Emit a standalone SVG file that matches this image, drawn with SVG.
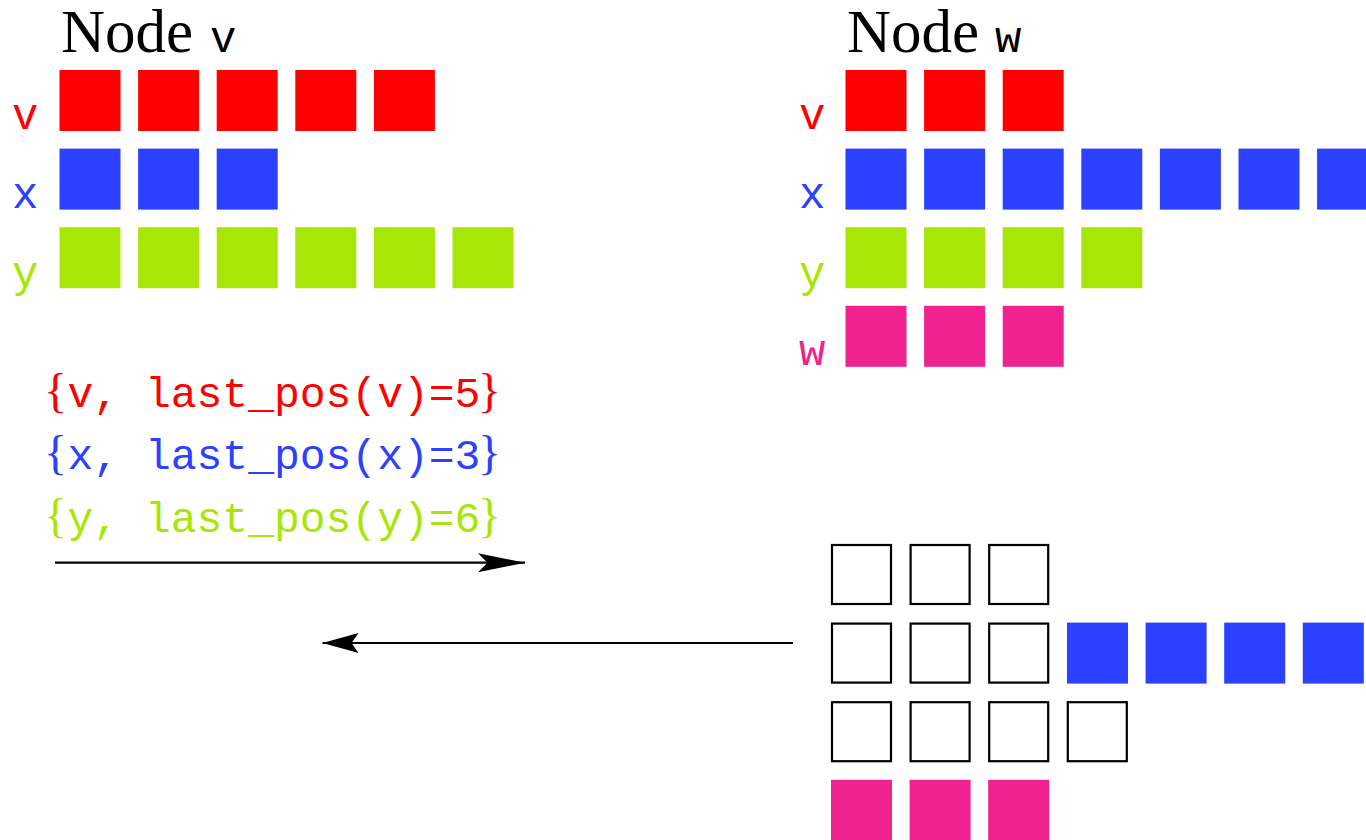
<svg xmlns="http://www.w3.org/2000/svg" width="1366" height="840" viewBox="0 0 1366 840">
<style>
.title{font-family:"Liberation Serif","Times New Roman",serif;font-size:61px;fill:#000}
.mono{font-family:"Liberation Mono","Courier New",monospace}
.tm{font-size:44px}
.lab{font-size:44px}
.st{font-size:43px}
.br{font-family:"Liberation Serif","Times New Roman",serif;font-size:48px}
.r{fill:#FF0000}
.b{fill:#2B41FF}
.g{fill:#A8E608}
.p{fill:#EF2290}
.o{fill:#fff;stroke:#000;stroke-width:2.2}
.conn{stroke:#000;stroke-width:2.2;fill:none}
</style>
<defs>
<marker id="headLong" markerUnits="userSpaceOnUse" orient="auto" refX="0" refY="0" markerWidth="60" markerHeight="30" viewBox="-50 -15 60 30" overflow="visible">
<path d="M0,0 L-47,-9.5 L-37.5,0 L-47,9.5 Z" fill="#000"/>
</marker>
<marker id="headShort" markerUnits="userSpaceOnUse" orient="auto" refX="0" refY="0" markerWidth="60" markerHeight="30" viewBox="-50 -15 60 30" overflow="visible">
<path d="M0,0 L-36,-10 L-29,0 L-36,10 Z" fill="#000"/>
</marker>
<rect id="sq" width="61" height="61"/>
</defs>

<g id="node-v">
<text class="title" x="61" y="52">Node<tspan class="mono tm" x="210">v</tspan></text>
<text class="mono lab r" x="12" y="129">v</text>
<text class="mono lab b" x="12" y="208">x</text>
<text class="mono lab g" x="12" y="287">y</text>
<g class="r">
<use href="#sq" x="59.5" y="70"/><use href="#sq" x="138.1" y="70"/><use href="#sq" x="216.7" y="70"/><use href="#sq" x="295.3" y="70"/><use href="#sq" x="373.9" y="70"/>
</g>
<g class="b">
<use href="#sq" x="59.5" y="148.6"/><use href="#sq" x="138.1" y="148.6"/><use href="#sq" x="216.7" y="148.6"/>
</g>
<g class="g">
<use href="#sq" x="59.5" y="227.2"/><use href="#sq" x="138.1" y="227.2"/><use href="#sq" x="216.7" y="227.2"/><use href="#sq" x="295.3" y="227.2"/><use href="#sq" x="373.9" y="227.2"/><use href="#sq" x="452.5" y="227.2"/>
</g>
</g>

<g id="node-w">
<text class="title" x="847" y="52">Node<tspan class="mono tm" x="995">w</tspan></text>
<text class="mono lab r" x="799" y="129">v</text>
<text class="mono lab b" x="799" y="208">x</text>
<text class="mono lab g" x="799" y="287">y</text>
<text class="mono lab p" x="799" y="365">w</text>
<g class="r">
<use href="#sq" x="845.5" y="70"/><use href="#sq" x="924.1" y="70"/><use href="#sq" x="1002.7" y="70"/>
</g>
<g class="b">
<use href="#sq" x="845.5" y="148.6"/><use href="#sq" x="924.1" y="148.6"/><use href="#sq" x="1002.7" y="148.6"/><use href="#sq" x="1081.3" y="148.6"/><use href="#sq" x="1159.9" y="148.6"/><use href="#sq" x="1238.5" y="148.6"/><use href="#sq" x="1317.1" y="148.6"/>
</g>
<g class="g">
<use href="#sq" x="845.5" y="227.2"/><use href="#sq" x="924.1" y="227.2"/><use href="#sq" x="1002.7" y="227.2"/><use href="#sq" x="1081.3" y="227.2"/>
</g>
<g class="p">
<use href="#sq" x="845.5" y="305.8"/><use href="#sq" x="924.1" y="305.8"/><use href="#sq" x="1002.7" y="305.8"/>
</g>
</g>

<g id="message">
<text class="r" y="406.5"><tspan class="br" x="44">{</tspan><tspan class="mono st" x="67.5">v, last_pos(v)=5</tspan><tspan class="br" x="478">}</tspan></text>
<text class="b" y="469"><tspan class="br" x="44">{</tspan><tspan class="mono st" x="67.5">x, last_pos(x)=3</tspan><tspan class="br" x="478">}</tspan></text>
<text class="g" y="531.5"><tspan class="br" x="44">{</tspan><tspan class="mono st" x="67.5">y, last_pos(y)=6</tspan><tspan class="br" x="478">}</tspan></text>
</g>

<g id="node-result">
<g class="o">
<rect x="832" y="545" width="59" height="59"/><rect x="910.6" y="545" width="59" height="59"/><rect x="989.2" y="545" width="59" height="59"/>
<rect x="832" y="623.6" width="59" height="59"/><rect x="910.6" y="623.6" width="59" height="59"/><rect x="989.2" y="623.6" width="59" height="59"/>
<rect x="832" y="702.2" width="59" height="59"/><rect x="910.6" y="702.2" width="59" height="59"/><rect x="989.2" y="702.2" width="59" height="59"/><rect x="1067.8" y="702.2" width="59" height="59"/>
</g>
<g class="b">
<use href="#sq" x="1067" y="622.6"/><use href="#sq" x="1145.6" y="622.6"/><use href="#sq" x="1224.2" y="622.6"/><use href="#sq" x="1302.8" y="622.6"/>
</g>
<g class="p">
<use href="#sq" x="831" y="779.8"/><use href="#sq" x="909.6" y="779.8"/><use href="#sq" x="988.2" y="779.8"/>
</g>
</g>

<g id="connectors">
<line class="conn" x1="55" y1="562.7" x2="525" y2="562.7" marker-end="url(#headLong)"/>
<line class="conn" x1="793" y1="643" x2="322.5" y2="643" marker-end="url(#headShort)"/>
</g>
</svg>
